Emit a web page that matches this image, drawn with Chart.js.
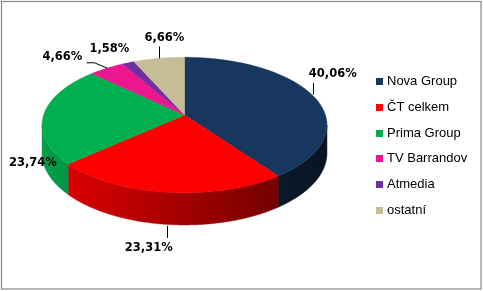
<!DOCTYPE html>
<html><head><meta charset="utf-8">
<script src="https://cdn.jsdelivr.net/npm/chart.js@4.4.1/dist/chart.umd.min.js"></script>
<style>html,body{margin:0;padding:0;background:#fff;overflow:hidden}canvas{display:block}</style>
</head><body>
<canvas id="c" width="483" height="291"></canvas>
<script>
// ---------- data ----------
const categories = ['Nova Group', 'ČT celkem', 'Prima Group', 'TV Barrandov', 'Atmedia', 'ostatní'];
const shares = [40.06, 23.31, 23.74, 4.66, 1.58, 6.66];
const sliceColors = ['#17375E', '#FF0000', '#00B050', '#EC168F', '#7030A0', '#C4BD97'];

// ---------- 3D look (style) ----------
const TILT = 0.47, PERSP = 0.1477, DEPTH = 0.195;
function pt(x, y, r, phi, bottom) {
  const u = Math.cos(phi), w = Math.sin(phi), d = 1 - PERSP * w;
  return [x + r * u / d, y + r * TILT * w / d + (bottom ? r * DEPTH / d : 0)];
}
function shade(hex, f) {
  const n = parseInt(hex.slice(1), 16);
  const c = [(n >> 16) & 255, (n >> 8) & 255, n & 255].map(v => Math.round(v * f));
  return 'rgb(' + c.join(',') + ')';
}

class Arc3D extends Chart.ArcElement {
  static id = 'arc3d';
  draw(ctx) {
    const x = this.x, y = this.y, r = this.outerRadius, s = this.startAngle, e = this.endAngle;
    const color = this.options.backgroundColor;
    const phi0 = Math.asin(PERSP);
    const a = Math.max(s, phi0), b = Math.min(e, Math.PI - phi0);
    ctx.save();
    if (b > a) {
      const g = ctx.createLinearGradient(x - r * 1.01, 0, x + r * 1.01, 0);
      g.addColorStop(0, shade(color, 0.9));
      g.addColorStop(1, shade(color, 0.36));
      const n = Math.max(2, Math.ceil((b - a) / 0.01));
      ctx.beginPath();
      for (let i = 0; i <= n; i++) {
        const p = pt(x, y, r, a + (b - a) * i / n, false);
        i ? ctx.lineTo(p[0], p[1]) : ctx.moveTo(p[0], p[1]);
      }
      for (let i = n; i >= 0; i--) {
        const p = pt(x, y, r, a + (b - a) * i / n, true);
        ctx.lineTo(p[0], p[1]);
      }
      ctx.closePath();
      ctx.fillStyle = g; ctx.fill();
      ctx.strokeStyle = g; ctx.lineWidth = 0.5; ctx.stroke();
    }
    const n2 = Math.max(2, Math.ceil((e - s) / 0.01));
    ctx.beginPath();
    ctx.moveTo(x, y);
    for (let i = 0; i <= n2; i++) {
      const p = pt(x, y, r, s + (e - s) * i / n2, false);
      ctx.lineTo(p[0], p[1]);
    }
    ctx.closePath();
    ctx.fillStyle = color; ctx.fill();
    ctx.strokeStyle = color; ctx.lineWidth = 0.5; ctx.stroke();
    ctx.restore();
  }
}
class Pie3DController extends Chart.PieController {
  static id = 'pie3d';
  static defaults = { dataElementType: 'arc3d' };
}
Chart.register(Arc3D, Pie3DController);

// label placement relative to slice rim anchor (style)
const labelLayout = [
  { dx: 20, dy: -21.5, line: [[0, -1], [0, -12.5]] },
  { dx: -18, dy: 23.5, line: [[0, 1.5], [0, 13.5]] },
  { dx: -11, dy: 49, line: null },
  { dx: -44.3, dy: -11.5, line: [[0, 0], [-13, -5.5], [-20.5, -5.5]] },
  { dx: -18.9, dy: -13.8, line: null },
  { dx: 5.5, dy: -20.4, line: [[0, 0], [0, -12]] }
];

const decorPlugin = {
  id: 'decor',
  afterDatasetsDraw(chart) {
    const ctx = chart.ctx, meta = chart.getDatasetMeta(0), ds = chart.data.datasets[0];
    ctx.save();
    ctx.font = 'bold 11.5px "DejaVu Sans"';
    ctx.textAlign = 'center'; ctx.textBaseline = 'middle';
    ctx.fillStyle = '#000'; ctx.strokeStyle = '#000'; ctx.lineWidth = 1;
    meta.data.forEach((el, i) => {
      const mid = (el.startAngle + el.endAngle) / 2;
      const front = Math.sin(mid) > PERSP;
      const [ax, ay] = pt(el.x, el.y, el.outerRadius, mid, front);
      const L = labelLayout[i];
      if (L.line) {
        ctx.beginPath();
        L.line.forEach((q, k) => {
          const px = Math.round(ax + q[0]) + 0.5, py = ay + q[1];
          k ? ctx.lineTo(px, py) : ctx.moveTo(px, py);
        });
        ctx.stroke();
      }
      const txt = ds.data[i].toFixed(2).replace('.', ',') + '%';
      ctx.fillText(txt, ax + L.dx, ay + L.dy);
    });
    // legend
    ctx.font = '13px "Liberation Sans"';
    ctx.textAlign = 'left';
    chart.data.labels.forEach((lab, i) => {
      const cy = 81.5 + i * 25.75;
      ctx.fillStyle = ds.backgroundColor[i];
      ctx.fillRect(376, Math.round(cy - 3.5), 7, 7);
      ctx.fillStyle = '#000';
      ctx.fillText(lab, 387, cy);
    });
    // frame
    ctx.strokeStyle = '#868686'; ctx.lineWidth = 1.2;
    ctx.strokeRect(1.5, 1.5, 479.5, 287.5);
    ctx.restore();
  }
};

new Chart(document.getElementById('c'), {
  type: 'pie3d',
  data: {
    labels: categories,
    datasets: [{ data: shares, backgroundColor: sliceColors, borderWidth: 0, radius: 140.9 }]
  },
  options: {
    responsive: false,
    animation: false,
    layout: { padding: { left: 0, right: 114, top: 0, bottom: 61 } },
    plugins: { legend: { display: false }, tooltip: { enabled: false } }
  },
  plugins: [decorPlugin]
});
</script>
</body></html>
